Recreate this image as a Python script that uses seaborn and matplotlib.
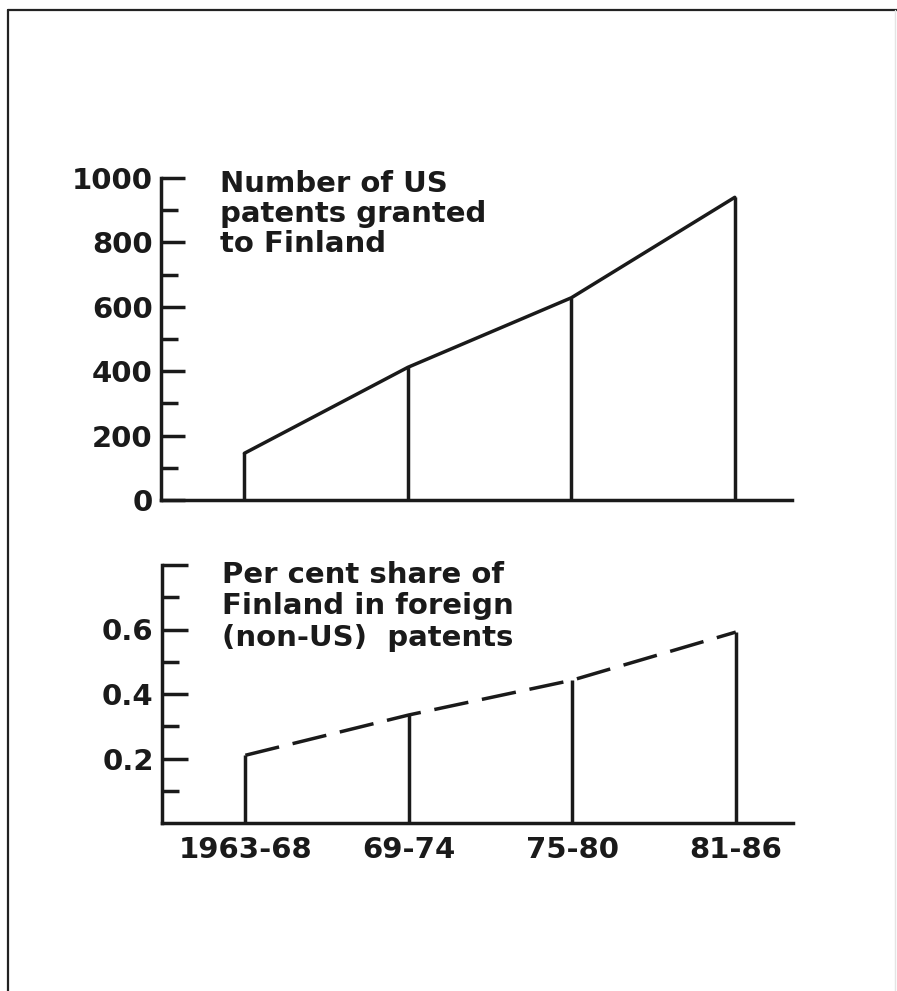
# Patents: US patents granted to Finland and Finland's share of foreign patents
import matplotlib
matplotlib.use('Agg')
import matplotlib.pyplot as plt
from matplotlib.lines import Line2D
import seaborn as sns

# Data
periods = ['1963-68', '69-74', '75-80', '81-86']
us_patents = [145, 412, 628, 940]
foreign_share = [0.21, 0.335, 0.443, 0.592]

xpos = list(range(len(periods)))
ink = '#1a1a1a'
lw = 2.5

sns.set_style('white')
plt.rcParams['font.family'] = ['DejaVu Sans']
plt.rcParams['font.weight'] = 'bold'

fig = plt.figure(figsize=(8.97, 9.91), dpi=100)
W, H = 897, 991

# axes placed in pixel coords of the reference
ax1 = fig.add_axes([161 / W, 1 - 500 / H, (792 - 161) / W, (500 - 178) / H])
ax2 = fig.add_axes([162 / W, 1 - 823 / H, (793 - 162) / W, (823 - 565) / H])

# Top panel: number of US patents
sns.lineplot(x=xpos, y=us_patents, ax=ax1, color=ink, linewidth=lw)
ax1.vlines(xpos, 0, us_patents, color=ink, linewidth=lw)
ax1.set_ylim(0, 1000)
ax1.set_yticks([0, 200, 400, 600, 800, 1000])
ax1.set_yticklabels(['0', '200', '400', '600', '800', '1000'])
ax1.set_yticks([100, 300, 500, 700, 900], minor=True)
ax1.set_xticks(xpos)
ax1.set_xticklabels([])

# Bottom panel: per cent share in foreign patents (dashed)
sns.lineplot(x=xpos, y=foreign_share, ax=ax2, color=ink, linewidth=lw,
             linestyle=(0, (10, 4)))
ax2.vlines(xpos, 0, foreign_share, color=ink, linewidth=lw)
ax2.set_ylim(0, 0.8)
ax2.set_yticks([0.2, 0.4, 0.6, 0.8])
ax2.set_yticklabels(['0.2', '0.4', '0.6', ''])
ax2.set_yticks([0.1, 0.3, 0.5, 0.7], minor=True)
ax2.set_xticks(xpos)
ax2.set_xticklabels(periods)

for ax, maj, mnr in [(ax1, 17, 12), (ax2, 19, 12)]:
    ax.set_xlim(-0.51, 3.35)
    for side in ['top', 'right']:
        ax.spines[side].set_visible(False)
    for side in ['left', 'bottom']:
        ax.spines[side].set_linewidth(lw)
        ax.spines[side].set_color(ink)
    ax.tick_params(axis='y', which='both', left=True, right=False)
    ax.tick_params(axis='y', which='major', direction='in', length=maj,
                   width=lw, color=ink, pad=6, labelsize=21, labelcolor=ink)
    ax.tick_params(axis='y', which='minor', direction='in', length=mnr,
                   width=lw, color=ink)
    ax.tick_params(axis='x', bottom=False, length=0, pad=9, labelsize=21,
                   labelcolor=ink)
    ax.set_xlabel('')
    ax.set_ylabel('')
    ax.patch.set_alpha(0)

fig.text(220 / W, 1 - 170 / H, 'Number of US\npatents granted\nto Finland',
         ha='left', va='top', fontsize=21, fontweight='bold', color=ink,
         linespacing=1.1)
fig.text(222 / W, 1 - 561 / H, 'Per cent share of\nFinland in foreign\n(non-US)  patents',
         ha='left', va='top', fontsize=21, fontweight='bold', color=ink,
         linespacing=1.15)

# page frame
fig.add_artist(Line2D([8 / W, 8 / W], [0, 1 - 10 / H], transform=fig.transFigure,
                      color='#222222', linewidth=1.6))
fig.add_artist(Line2D([8 / W, 1], [1 - 10 / H, 1 - 10 / H], transform=fig.transFigure,
                      color='#222222', linewidth=1.6))
fig.add_artist(Line2D([895 / W, 895 / W], [0, 1 - 10 / H], transform=fig.transFigure,
                      color='#e4e4e4', linewidth=1))

fig.savefig('out.png', dpi=100)
